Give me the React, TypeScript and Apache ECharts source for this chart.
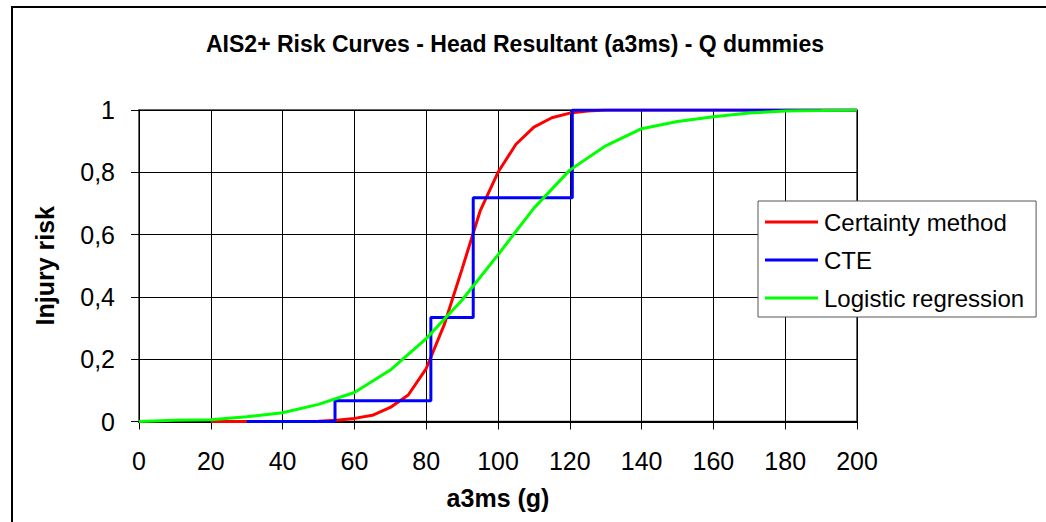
import React, { useEffect, useRef } from "react";
import * as echarts from "echarts";

// AIS2+ head resultant (a3ms) injury risk curves for Q dummies
const certaintyX = [20, 30, 40, 50, 55, 60, 65, 70, 75, 80, 85, 90, 95, 100, 105, 110, 115, 120, 125, 130, 150, 175, 200];
const certaintyY = [0, 0, 0, 0.001, 0.004, 0.01, 0.02, 0.045, 0.085, 0.17, 0.31, 0.49, 0.675, 0.8, 0.89, 0.945, 0.975, 0.99, 0.997, 1, 1, 1, 1];

const cteX = [30, 54.6, 54.6, 81.3, 81.3, 93.1, 93.1, 120.7, 120.7, 200];
const cteY = [0, 0, 0.067, 0.067, 0.334, 0.334, 0.718, 0.718, 1, 1];

const logisticX = [0, 10, 20, 30, 40, 50, 60, 70, 80, 90, 100, 110, 120, 130, 140, 150, 160, 170, 180, 190, 200];
const logisticY = [0, 0.004, 0.006, 0.015, 0.028, 0.055, 0.093, 0.165, 0.266, 0.39, 0.535, 0.685, 0.807, 0.885, 0.94, 0.963, 0.978, 0.99, 0.997, 0.998, 1];

const seriesNames = ["Certainty method", "CTE", "Logistic regression"];
const seriesColors = ["#ff0000", "#0000ff", "#00ff00"];

const titleText = "AIS2+ Risk Curves - Head Resultant (a3ms) - Q dummies";
const xAxisName = "a3ms (g)";
const yAxisName = "Injury risk";

const FONT = "'Liberation Sans', Arial, sans-serif";

const pairs = (xs: number[], ys: number[]) => xs.map((x, i) => [x, ys[i]]);

export default function App() {
  const ref = useRef<HTMLDivElement>(null);

  useEffect(() => {
    if (!ref.current) return;
    const chart = echarts.init(ref.current, null, { renderer: "svg" });
    const datasets = [
      pairs(certaintyX, certaintyY),
      pairs(cteX, cteY),
      pairs(logisticX, logisticY),
    ];
    chart.setOption({
      animation: false,
      backgroundColor: "#ffffff",
      textStyle: { fontFamily: FONT, color: "#000" },
      title: {
        text: titleText,
        left: 201,
        top: 27,
        textStyle: { fontFamily: FONT, fontSize: 23, fontWeight: "bold", color: "#000" },
      },
      graphic: [
        {
          type: "rect",
          silent: true,
          shape: { x: 12, y: 7, width: 1100, height: 600 },
          style: { fill: "none", stroke: "#000", lineWidth: 2 },
        },
      ],
      grid: {
        left: 139,
        right: 189,
        top: 110,
        bottom: 100.5,
        show: true,
        borderColor: "#333",
        borderWidth: 1.5,
        backgroundColor: "transparent",
      },
      legend: {
        orient: "vertical",
        left: 758,
        top: 201,
        padding: [7, 12, 5, 7],
        itemGap: 10,
        itemWidth: 53,
        itemHeight: 3,
        icon: "rect",
        backgroundColor: "#fff",
        borderColor: "#555",
        borderWidth: 1,
        data: seriesNames,
        textStyle: { fontFamily: FONT, fontSize: 24, color: "#000", lineHeight: 28, padding: [0, 0, 0, 1] },
      },
      xAxis: {
        type: "value",
        min: 0,
        max: 200,
        interval: 20,
        name: xAxisName,
        nameLocation: "middle",
        nameGap: 64,
        nameTextStyle: { fontFamily: FONT, fontSize: 25, fontWeight: "bold", color: "#000" },
        axisLine: { show: true, onZero: false, lineStyle: { color: "#000", width: 2 } },
        axisTick: { show: true, length: 8, lineStyle: { color: "#000", width: 1 } },
        axisLabel: { margin: 27, fontFamily: FONT, fontSize: 25, color: "#000" },
        splitLine: { show: true, lineStyle: { color: "#000", width: 1 } },
      },
      yAxis: {
        type: "value",
        min: 0,
        max: 1,
        interval: 0.2,
        name: yAxisName,
        nameLocation: "middle",
        nameGap: 82,
        nameRotate: 90,
        nameTextStyle: { fontFamily: FONT, fontSize: 25, fontWeight: "bold", color: "#000" },
        axisLine: { show: true, lineStyle: { color: "#000", width: 1 } },
        axisTick: { show: true, length: 8, lineStyle: { color: "#000", width: 1 } },
        axisLabel: {
          margin: 24,
          fontFamily: FONT,
          fontSize: 25,
          color: "#000",
          formatter: (v: number) => String(Math.round(v * 10) / 10).replace(".", ","),
        },
        splitLine: { show: true, lineStyle: { color: "#000", width: 1 } },
      },
      series: seriesNames.map((name, i) => ({
        name,
        type: "line",
        data: datasets[i],
        showSymbol: false,
        symbol: "none",
        color: seriesColors[i],
        lineStyle: { color: seriesColors[i], width: 3 },
        z: 2 + i,
      })),
    });
    return () => chart.dispose();
  }, []);

  return (
    <div
      ref={ref}
      style={{ position: "absolute", left: 0, top: 0, width: 1046, height: 522 }}
    />
  );
}
